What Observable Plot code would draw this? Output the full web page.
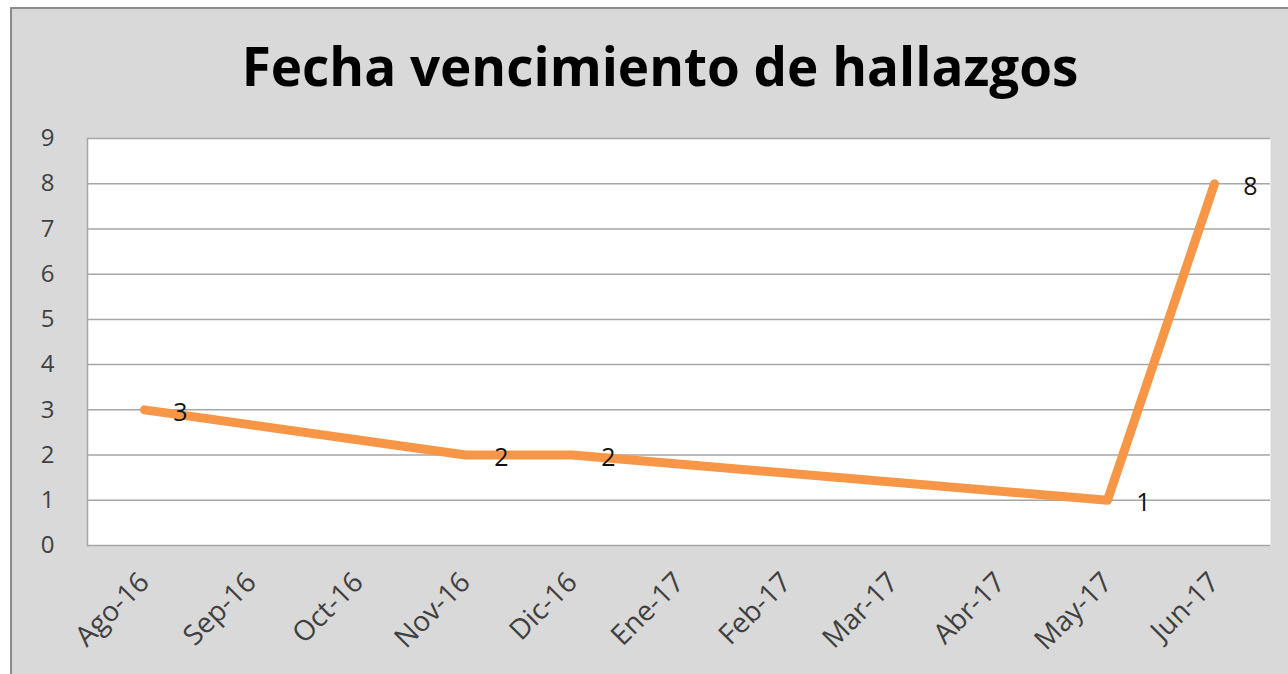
<!DOCTYPE html>
<html>
<head>
<meta charset="utf-8">
<script src="https://cdn.jsdelivr.net/npm/d3@7"></script>
<script src="https://cdn.jsdelivr.net/npm/@observablehq/plot@0.6"></script>
<style>
  html, body { margin: 0; padding: 0; background: #ffffff; overflow: hidden; }
  #wrap { position: relative; width: 1288px; height: 674px; overflow: hidden; }
  #frame { position: absolute; left: 10px; top: 7px; width: 1300px; height: 700px;
           background: #d9d9d9; border: 2px solid #8c8c8c; box-sizing: border-box; }
  #title { position: absolute; left: 0; width: 1320px; top: 39px; text-align: center; line-height: 53px;
           font-family: "Open Sans", sans-serif; font-weight: 700; font-size: 53px; color: #000; }
  #chart { position: absolute; left: 0; top: 0; }
</style>
</head>
<body>
<div id="wrap">
  <div id="frame"></div>
  <div id="title">Fecha vencimiento de hallazgos</div>
  <div id="chart"></div>
</div>
<script>
const months = ["Ago-16","Sep-16","Oct-16","Nov-16","Dic-16","Ene-17","Feb-17","Mar-17","Abr-17","May-17","Jun-17"];
const dataMonths = ["Ago-16","Nov-16","Dic-16","May-17","Jun-17"];
const values = [3, 2, 2, 1, 8];
const yTicks = [0,1,2,3,4,5,6,7,8,9];

const data = dataMonths.map((m, i) => ({month: m, value: values[i]}));

const chart = Plot.plot({
  width: 1288,
  height: 674,
  marginLeft: 87,
  marginRight: 18,
  marginTop: 138,
  marginBottom: 129,
  style: {background: "transparent", fontFamily: "'Open Sans', sans-serif", color: "#404040"},
  x: {type: "point", domain: months, padding: 0.5, label: null},
  y: {domain: [0, 9], ticks: yTicks, label: null},
  marks: [
    Plot.frame({fill: "white", stroke: null}),
    Plot.ruleY(yTicks, {stroke: "#a6a6a6", strokeWidth: 1.5}),
    Plot.frame({anchor: "left", stroke: "#a6a6a6", strokeWidth: 1.5}),
    Plot.axisY({ticks: yTicks, tickSize: 0, tickPadding: 33, fontSize: 24, fill: "#404040", label: null}),
    Plot.axisX({tickSize: 0, tickPadding: 32, tickRotate: -45, fontSize: 28, fill: "#404040", label: null}),
    Plot.line(data, {x: "month", y: "value", stroke: "#f79646", strokeWidth: 9, strokeLinecap: "round", strokeLinejoin: "round"}),
    Plot.text(data, {x: "month", y: "value", text: "value", dx: 36, dy: 3, fontSize: 25, fill: "#111"})
  ]
});
document.getElementById("chart").appendChild(chart);
</script>
</body>
</html>
